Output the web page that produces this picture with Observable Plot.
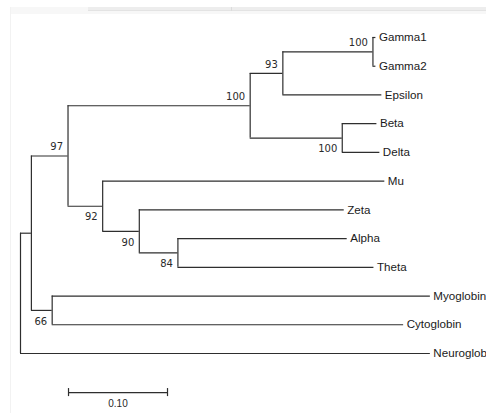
<!DOCTYPE html>
<html>
<head>
<meta charset="utf-8">
<script src="https://cdn.jsdelivr.net/npm/d3@7"></script>
<script src="https://cdn.jsdelivr.net/npm/@observablehq/plot@0.6"></script>
<style>
  html, body { margin: 0; padding: 0; background: #fff; width: 486px; height: 413px; overflow: hidden; }
  #chart { position: absolute; left: 0; top: 0; }
  .deco { position: absolute; pointer-events: none; }
</style>
</head>
<body>
<div class="deco" style="left:10px; top:7px; width:476px; height:7px; background:#f7f7f7;"></div>
<div class="deco" style="left:88px; top:7px; width:398px; height:3px; background:#ededed; border-bottom:1px solid #e3e3e3;"></div>
<div class="deco" style="left:231px; top:7px; width:1px; height:4px; background:#dcdcdc;"></div>
<div class="deco" style="left:10px; top:7px; width:1px; height:406px; background:#f2f2f2;"></div>
<div id="chart"></div>
<script>
// ---- tree data ----
const nodeIds = ["root","n1","n97","n100","n93","nG","Gamma1","Gamma2","Epsilon","nBD","Beta","Delta",
                 "n92","Mu","n90","Zeta","n84","Alpha","Theta","n66","Myoglobin","Cytoglobin","Neuroglobin"];
const parentIds = [null,"root","n1","n97","n100","n93","nG","nG","n93","n100","nBD","nBD",
                   "n97","n92","n92","n90","n90","n84","n84","n1","n66","n66","root"];
const branchLengths = [0,0.011,0.037,0.184,0.033,0.091,0.003,0.003,0.100,0.093,0.035,0.038,
                       0.035,0.285,0.037,0.207,0.039,0.171,0.198,0.021,0.382,0.355,0.414];
const bootstrapValues = [null,null,97,100,93,100,null,null,null,100,null,null,
                         92,null,90,null,84,null,null,66,null,null,null];
const scaleBarLength = 0.10;
const scaleBarLabel = "0.10";
const scaleBarStart = 0.0485;
const scaleBarRow = 12.36;

// ---- build tree layout ----
const nodes = nodeIds.map((id, i) => ({id, parentId: parentIds[i], len: branchLengths[i], boot: bootstrapValues[i], children: []}));
const byId = new Map(nodes.map(n => [n.id, n]));
nodes.forEach(n => { if (n.parentId) { n.parent = byId.get(n.parentId); n.parent.children.push(n); } });
const root = byId.get("root");
let leafCounter = 0;
(function layout(n, x) {
  n.x = x + n.len;
  if (n.children.length === 0) { n.y = leafCounter++; }
  else {
    n.children.forEach(c => layout(c, n.x));
    n.y = (n.children[0].y + n.children[n.children.length - 1].y) / 2;
  }
})(root, 0);
const branches = nodes.filter(n => n.parent);
const internals = nodes.filter(n => n.children.length > 0);
const leaves = nodes.filter(n => n.children.length === 0);
const supports = nodes.filter(n => n.boot != null);
const supportsUp = supports.filter(n => n.parent.children[0] === n);
const supportsDown = supports.filter(n => n.parent.children[0] !== n);
const scaleBar = [{x1: scaleBarStart, x2: scaleBarStart + scaleBarLength, y: scaleBarRow, label: scaleBarLabel}];

const lineColor = "#2e2e2e";
const lw = 1.2;
const chart = Plot.plot({
  width: 486,
  height: 413,
  margin: 0,
  style: {background: "transparent", fontFamily: "'Liberation Sans', Arial, sans-serif", color: "#1a1a1a"},
  x: {domain: [0, 0.1], range: [20, 119], axis: null},
  y: {domain: [0, 11], range: [37, 353], axis: null},
  marks: [
    Plot.ruleY(branches, {x1: d => d.parent.x, x2: d => d.x, y: d => d.y, stroke: lineColor, strokeWidth: lw}),
    Plot.ruleX(internals, {x: d => d.x, y1: d => d.children[0].y, y2: d => d.children[d.children.length - 1].y, stroke: lineColor, strokeWidth: lw}),
    Plot.text(leaves, {x: "x", y: "y", text: "id", textAnchor: "start", dx: 3, fontSize: 11.6, fill: "#1a1a1a"}),
    Plot.text(supportsUp, {x: "x", y: "y", text: "boot", textAnchor: "end", dx: -5, dy: -9, fontSize: 10, fontFamily: "'DejaVu Sans', Verdana, sans-serif", fill: "#2a2a2a"}),
    Plot.text(supportsDown, {x: "x", y: "y", text: "boot", textAnchor: "end", dx: -5, dy: 11, fontSize: 10, fontFamily: "'DejaVu Sans', Verdana, sans-serif", fill: "#2a2a2a"}),
    Plot.ruleY(scaleBar, {x1: "x1", x2: "x2", y: "y", stroke: lineColor, strokeWidth: lw}),
    Plot.ruleX(scaleBar, {x: "x1", y1: d => d.y - 0.14, y2: d => d.y + 0.14, stroke: lineColor, strokeWidth: lw}),
    Plot.ruleX(scaleBar, {x: "x2", y1: d => d.y - 0.14, y2: d => d.y + 0.14, stroke: lineColor, strokeWidth: lw}),
    Plot.text(scaleBar, {x: d => (d.x1 + d.x2) / 2, y: "y", text: "label", dy: 11, fontSize: 10, fill: "#2a2a2a"})
  ]
});
document.getElementById("chart").appendChild(chart);
</script>
</body>
</html>
